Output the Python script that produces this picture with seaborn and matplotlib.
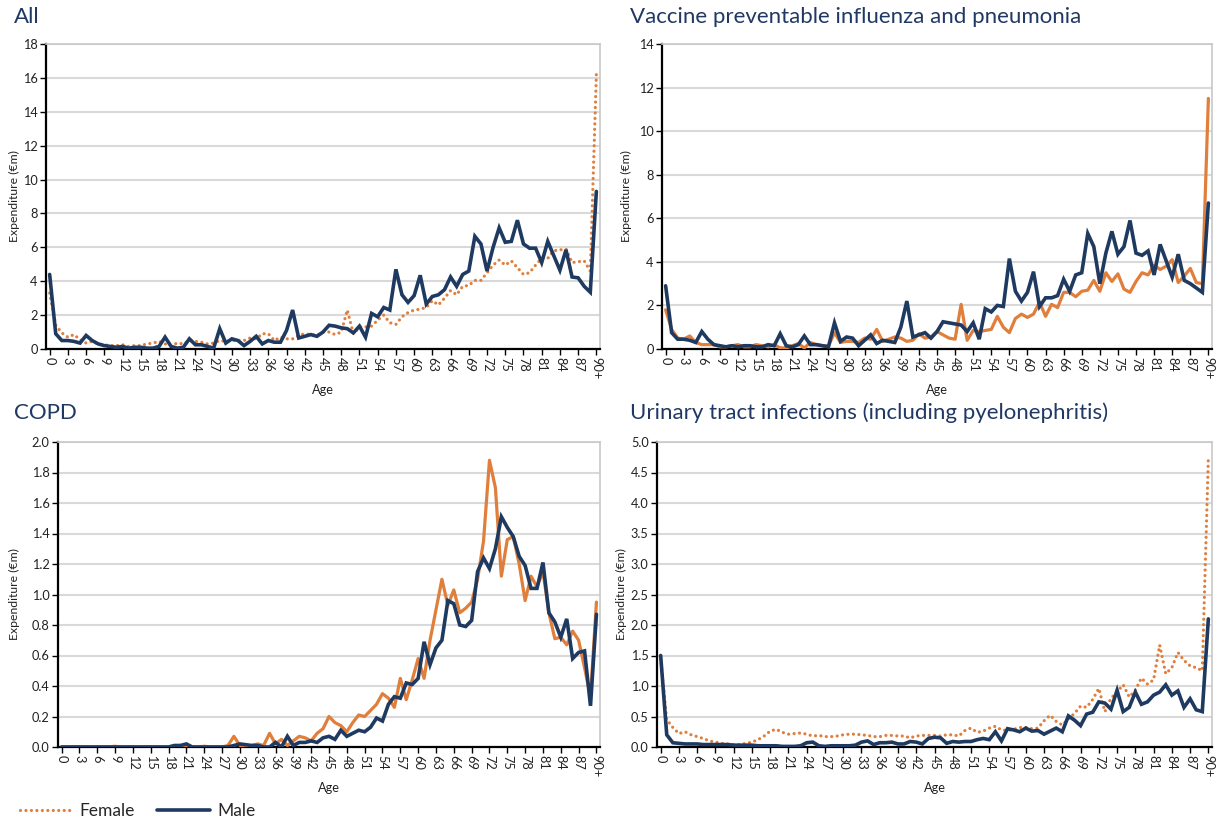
import numpy as np
import pandas as pd
import matplotlib
matplotlib.use("Agg")
import matplotlib.pyplot as plt
from matplotlib.lines import Line2D
from matplotlib.ticker import FormatStrFormatter
import seaborn as sns

# Ages 0..89 plus the open-ended 90+ group
ages = list(range(91))
age_labels = [str(a) for a in range(0, 90, 3)] + ["90+"]
age_ticks = list(range(0, 90, 3)) + [90]

# ---- All ----
all_female = [3.3, 1.4, 0.95, 0.7, 0.85, 0.55, 0.35, 0.45, 0.3, 0.25,
              0.2, 0.2, 0.25, 0.15, 0.2, 0.2, 0.3, 0.35, 0.45, 0.3,
              0.2, 0.35, 0.3, 0.5, 0.45, 0.4, 0.3, 0.35, 0.5, 0.45,
              0.5, 0.5, 0.5, 0.65, 0.6, 0.9, 0.9, 0.5, 0.7, 0.6,
              0.6, 0.8, 0.9, 0.85, 0.8, 1.0, 1.0, 0.85, 1.0, 2.3,
              0.9, 1.3, 1.3, 1.35, 1.7, 2.0, 1.55, 1.45, 1.9, 2.15,
              2.3, 2.35, 2.45, 2.85, 2.6, 3.0, 3.45, 3.2, 3.7, 3.75,
              4.05, 4.05, 4.5, 4.95, 5.25, 4.95, 5.2, 4.8, 4.4, 4.5,
              4.95, 5.35, 5.35, 5.8, 5.85, 5.9, 5.1, 5.15, 5.2, 4.6,
              16.2]
all_male = [4.4, 0.9, 0.5, 0.5, 0.45, 0.35, 0.8, 0.5, 0.3, 0.2,
            0.15, 0.1, 0.15, 0.05, 0.1, 0.1, 0.05, 0.05, 0.15, 0.7,
            0.15, 0.05, 0.1, 0.6, 0.25, 0.25, 0.15, 0.05, 1.2, 0.35,
            0.6, 0.5, 0.2, 0.45, 0.75, 0.3, 0.5, 0.4, 0.4, 1.1,
            2.3, 0.65, 0.75, 0.85, 0.75, 1.0, 1.4, 1.35, 1.25, 1.2,
            0.95, 1.35, 0.7, 2.1, 1.9, 2.45, 2.3, 4.7, 3.2, 2.75,
            3.15, 4.35, 2.65, 3.1, 3.2, 3.5, 4.25, 3.7, 4.4, 4.6,
            6.65, 6.2, 4.6, 6.0, 7.15, 6.3, 6.35, 7.6, 6.2, 5.95,
            5.95, 5.1, 6.35, 5.5, 4.65, 5.85, 4.25, 4.2, 3.7, 3.35,
            9.3]

# ---- Vaccine preventable influenza and pneumonia ----
flu_female = [1.8, 0.9, 0.5, 0.45, 0.6, 0.3, 0.2, 0.2, 0.2, 0.1,
              0.1, 0.15, 0.2, 0.1, 0.1, 0.2, 0.15, 0.1, 0.2, 0.05,
              0.05, 0.15, 0.25, 0.05, 0.3, 0.2, 0.15, 0.15, 0.75, 0.3,
              0.35, 0.35, 0.3, 0.5, 0.45, 0.9, 0.35, 0.45, 0.55, 0.5,
              0.35, 0.4, 0.7, 0.5, 0.55, 0.8, 0.65, 0.5, 0.45, 2.05,
              0.4, 0.85, 0.8, 0.85, 0.9, 1.5, 1.0, 0.75, 1.4, 1.6,
              1.45, 1.6, 2.15, 1.5, 2.05, 1.9, 2.6, 2.6, 2.4, 2.65,
              2.7, 3.15, 2.65, 3.5, 3.1, 3.45, 2.75, 2.6, 3.1, 3.5,
              3.4, 3.85, 3.65, 3.8, 4.1, 3.05, 3.35, 3.7, 3.05, 3.0,
              11.5]
flu_male = [2.9, 0.75, 0.45, 0.45, 0.4, 0.3, 0.8, 0.45, 0.2, 0.15,
            0.1, 0.15, 0.1, 0.15, 0.15, 0.1, 0.1, 0.2, 0.15, 0.7,
            0.15, 0.1, 0.2, 0.6, 0.2, 0.2, 0.15, 0.1, 1.2, 0.35,
            0.55, 0.5, 0.15, 0.4, 0.65, 0.25, 0.4, 0.35, 0.3, 1.0,
            2.2, 0.55, 0.65, 0.75, 0.5, 0.8, 1.25, 1.2, 1.15, 1.1,
            0.8, 1.2, 0.45, 1.85, 1.7, 2.0, 1.95, 4.15, 2.65, 2.2,
            2.6, 3.55, 1.95, 2.35, 2.35, 2.45, 3.2, 2.65, 3.4, 3.5,
            5.3, 4.7, 3.0, 4.4, 5.4, 4.35, 4.7, 5.9, 4.4, 4.3,
            4.5, 3.4, 4.8, 4.05, 3.3, 4.35, 3.15, 3.0, 2.8, 2.6,
            6.7]

# ---- COPD ----
copd_female = [0.0, 0.0, 0.0, 0.0, 0.0, 0.0, 0.0, 0.0, 0.0, 0.005,
               0.0, 0.0, 0.0, 0.0, 0.0, 0.0, 0.0, 0.0, 0.0, 0.0,
               0.0, 0.0, 0.0, 0.0, 0.005, 0.0, 0.0, 0.0, 0.01, 0.07,
               0.01, 0.0, 0.01, 0.02, 0.01, 0.09, 0.02, 0.05, 0.01, 0.04,
               0.07, 0.06, 0.04, 0.09, 0.12, 0.2, 0.16, 0.14, 0.1, 0.16,
               0.21, 0.2, 0.24, 0.28, 0.35, 0.32, 0.26, 0.45, 0.31, 0.44,
               0.58, 0.45, 0.7, 0.9, 1.1, 0.93, 1.03, 0.88, 0.91, 0.95,
               1.1, 1.35, 1.88, 1.7, 1.12, 1.36, 1.38, 1.2, 0.96, 1.12,
               1.05, 1.15, 0.88, 0.71, 0.72, 0.67, 0.76, 0.7, 0.52, 0.33,
               0.95]
copd_male = [0.0, 0.0, 0.0, 0.0, 0.0, 0.0, 0.0, 0.0, 0.0, 0.0,
             0.0, 0.0, 0.0, 0.0, 0.0, 0.0, 0.0, 0.0, 0.0, 0.01,
             0.01, 0.02, 0.0, 0.0, 0.0, 0.0, 0.0, 0.0, 0.0, 0.01,
             0.02, 0.015, 0.01, 0.01, 0.0, 0.0, 0.03, 0.0, 0.07, 0.01,
             0.03, 0.03, 0.04, 0.03, 0.06, 0.07, 0.05, 0.11, 0.07, 0.09,
             0.11, 0.1, 0.13, 0.19, 0.17, 0.28, 0.33, 0.32, 0.42, 0.41,
             0.45, 0.69, 0.54, 0.65, 0.7, 0.96, 0.94, 0.8, 0.79, 0.83,
             1.15, 1.24, 1.17, 1.3, 1.51, 1.44, 1.38, 1.25, 1.19, 1.04,
             1.04, 1.21, 0.88, 0.82, 0.72, 0.84, 0.58, 0.62, 0.63, 0.27,
             0.87]

# ---- Urinary tract infections (including pyelonephritis) ----
uti_female = [1.45, 0.45, 0.32, 0.22, 0.25, 0.2, 0.17, 0.14, 0.1, 0.08,
              0.06, 0.05, 0.04, 0.04, 0.06, 0.08, 0.12, 0.18, 0.26, 0.29,
              0.24, 0.21, 0.22, 0.23, 0.21, 0.18, 0.19, 0.17, 0.17, 0.18,
              0.2, 0.21, 0.21, 0.2, 0.19, 0.17, 0.17, 0.19, 0.19, 0.18,
              0.18, 0.15, 0.18, 0.19, 0.19, 0.19, 0.18, 0.2, 0.2, 0.18,
              0.27, 0.31, 0.24, 0.26, 0.31, 0.34, 0.28, 0.27, 0.29, 0.32,
              0.32, 0.3, 0.31, 0.43, 0.52, 0.42, 0.36, 0.46, 0.55, 0.67,
              0.65, 0.78, 0.96, 0.58, 0.8, 0.9, 1.02, 0.82, 0.93, 1.13,
              1.03, 1.1, 1.67, 1.2, 1.3, 1.55, 1.42, 1.33, 1.3, 1.25,
              4.73]
uti_male = [1.5, 0.2, 0.07, 0.06, 0.05, 0.05, 0.05, 0.04, 0.04, 0.04,
            0.04, 0.04, 0.03, 0.03, 0.03, 0.03, 0.02, 0.02, 0.02, 0.02,
            0.01, 0.01, 0.01, 0.02, 0.07, 0.08, 0.02, 0.01, 0.02, 0.02,
            0.02, 0.02, 0.03, 0.08, 0.1, 0.04, 0.07, 0.07, 0.08, 0.05,
            0.05, 0.09, 0.08, 0.05, 0.14, 0.16, 0.15, 0.06, 0.09, 0.08,
            0.09, 0.09, 0.12, 0.14, 0.12, 0.25, 0.1, 0.3, 0.28, 0.25,
            0.31, 0.26, 0.27, 0.21, 0.26, 0.31, 0.25, 0.51, 0.44, 0.35,
            0.54, 0.57, 0.74, 0.72, 0.62, 0.93, 0.58, 0.65, 0.9, 0.7,
            0.74, 0.85, 0.9, 1.02, 0.85, 0.92, 0.65, 0.79, 0.61, 0.58,
            2.1]

titles = ["All", "Vaccine preventable influenza and pneumonia",
          "COPD", "Urinary tract infections (including pyelonephritis)"]

FEMALE = "#E07E3C"
MALE = "#1F3A60"
TITLE = "#203864"
GRID = "#D9D9D9"
DOTTED = (0, (0.01, 1.7))

sns.set_theme(style="white")
plt.rcParams["font.family"] = ["Lato", "DejaVu Sans"]

fig = plt.figure(figsize=(12.19, 8.25), dpi=100)

W, H = 1219, 825


def px_axes(left, right, top, bottom):
    return fig.add_axes([left / W, 1 - bottom / H, (right - left) / W, (bottom - top) / H])


panels = [
    dict(box=(46, 600, 44, 349), f=all_female, m=all_male, fstyle=DOTTED,
         ymax=18, step=2, fmt="%d", ylab_x=-0.047, title_xy=(14, 17)),
    dict(box=(662, 1212, 44, 349), f=flu_female, m=flu_male, fstyle="-",
         ymax=14, step=2, fmt="%d", ylab_x=-0.055, title_xy=(630, 17)),
    dict(box=(58, 600, 442, 747), f=copd_female, m=copd_male, fstyle="-",
         ymax=2.0, step=0.2, fmt="%.1f", ylab_x=-0.070, title_xy=(14, 413)),
    dict(box=(657, 1212, 442, 747), f=uti_female, m=uti_male, fstyle=DOTTED,
         ymax=5.0, step=0.5, fmt="%.1f", ylab_x=-0.054, title_xy=(630, 413)),
]

for p, title in zip(panels, titles):
    ax = px_axes(*p["box"])
    df = pd.DataFrame({"Age": ages * 2,
                       "Expenditure": p["f"] + p["m"],
                       "Sex": ["Female"] * 91 + ["Male"] * 91})
    sns.lineplot(data=df[df.Sex == "Female"], x="Age", y="Expenditure", ax=ax,
                 color=FEMALE, linewidth=2.3, linestyle=p["fstyle"],
                 dash_capstyle="round", solid_capstyle="round", zorder=3)
    sns.lineplot(data=df[df.Sex == "Male"], x="Age", y="Expenditure", ax=ax,
                 color=MALE, linewidth=2.6, solid_joinstyle="miter", zorder=4)

    ax.set_xlim(-0.6, 90.6)
    ax.set_ylim(0, p["ymax"])
    ax.set_yticks(np.arange(0, p["ymax"] + p["step"] / 2, p["step"]))
    ax.yaxis.set_major_formatter(FormatStrFormatter(p["fmt"]))
    ax.set_xticks(age_ticks)
    ax.set_xticklabels(age_labels, rotation=-90)
    ax.tick_params(axis="both", which="major", labelsize=9.2, length=4,
                   width=1, direction="out", color="black", pad=2,
                   labelcolor="#222222", left=True, bottom=True)
    ax.grid(axis="y", color=GRID, linewidth=1.5)
    ax.set_axisbelow(True)
    for side in ("left", "bottom"):
        ax.spines[side].set_color("black")
        ax.spines[side].set_linewidth(1.6)
    for side in ("top", "right"):
        ax.spines[side].set_color("#C8C8C8")
        ax.spines[side].set_linewidth(1.2)
    ax.set_xlabel("Age", fontsize=9.2, labelpad=3, color="#222222")
    ax.set_ylabel("Expenditure (€m)", fontsize=8.8, color="#222222")
    ax.yaxis.set_label_coords(p["ylab_x"], 0.5)
    if ax.get_legend() is not None:
        ax.get_legend().remove()
    tx, ty = p["title_xy"]
    fig.text(tx / W, 1 - ty / H, title, fontsize=16, color=TITLE,
             ha="left", va="center")

handles = [Line2D([0], [0], color=FEMALE, linewidth=2.3, linestyle=DOTTED,
                  dash_capstyle="round"),
           Line2D([0], [0], color=MALE, linewidth=2.6)]
fig.legend(handles, ["Female", "Male"], loc="center left",
           bbox_to_anchor=(4 / W, 1 - 811 / H), ncol=2, frameon=False,
           fontsize=12.5, handlelength=3.0, columnspacing=1.3, handletextpad=0.45)

fig.savefig("out.png", dpi=100)
